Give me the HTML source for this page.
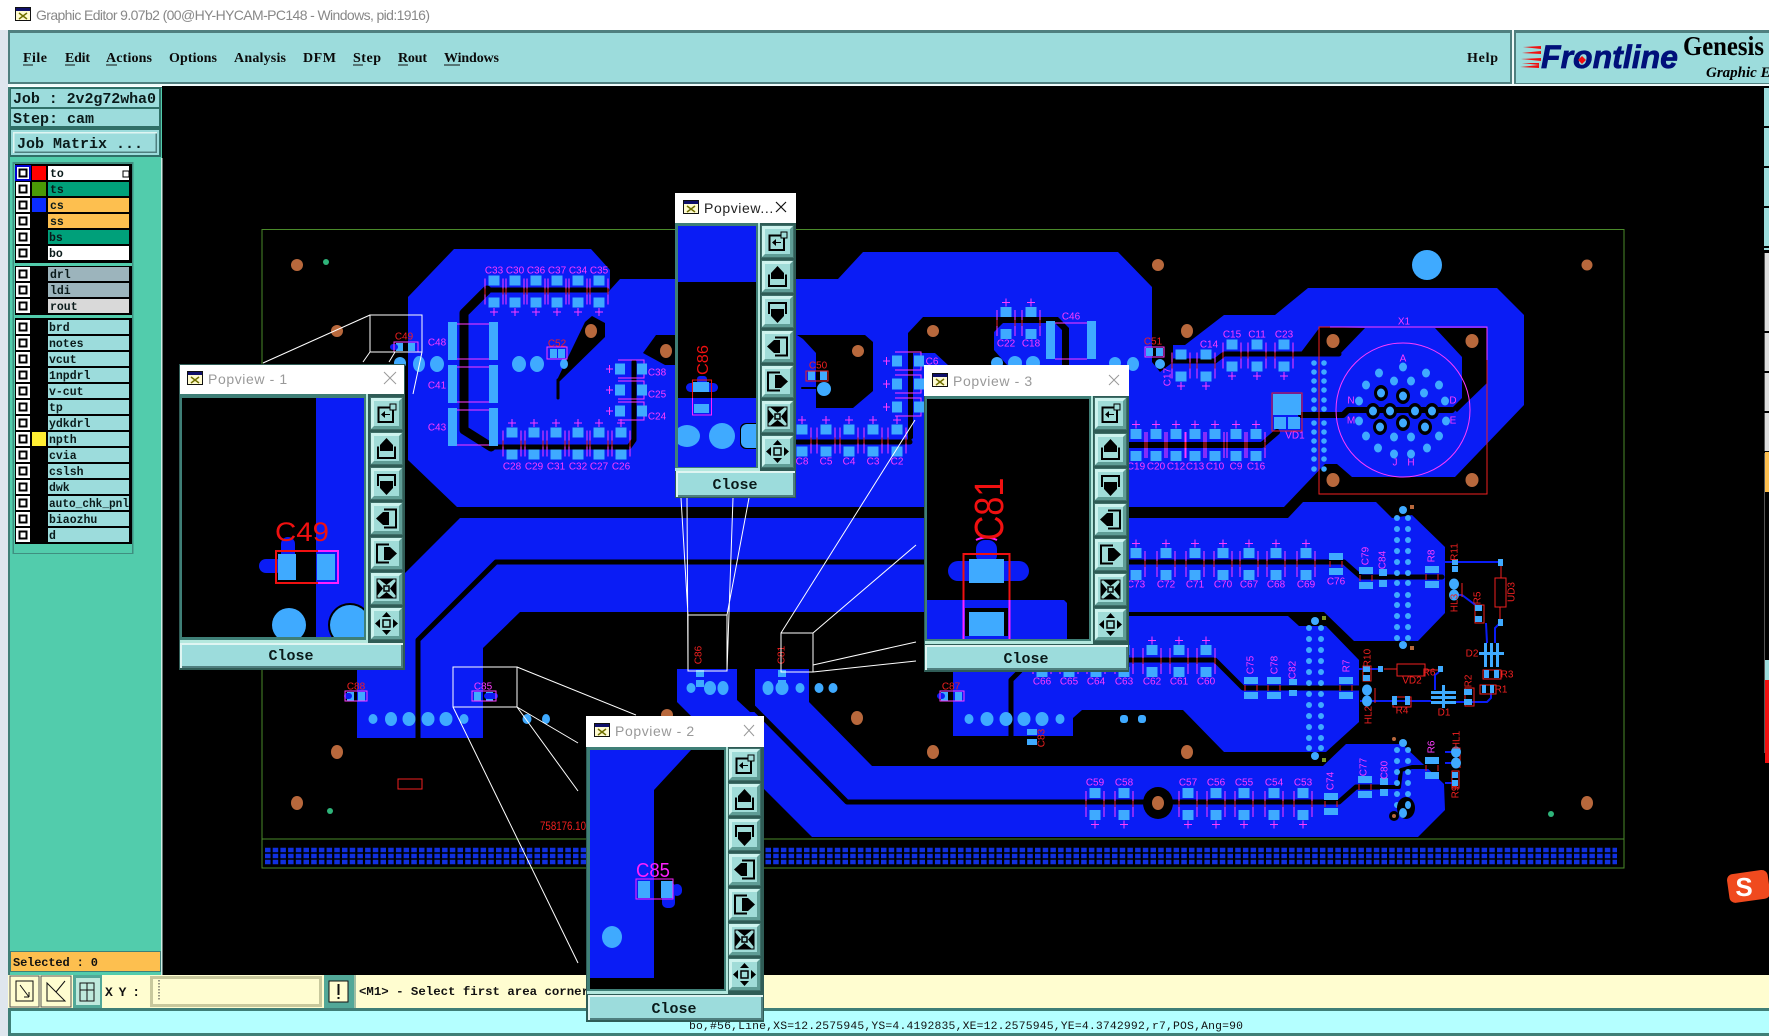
<!DOCTYPE html>
<html><head><meta charset="utf-8"><title>Graphic Editor</title>
<style>
html,body{margin:0;padding:0;background:#fff}
svg{display:block}
.m{fill:#ff3cff;font:10px "Liberation Sans",sans-serif;text-anchor:middle;dominant-baseline:central}
.r{fill:#f02020;font:10px "Liberation Sans",sans-serif;text-anchor:middle;dominant-baseline:central}
.men{font:bold 14px "Liberation Serif",serif;fill:#0a0a0a}
.mono{font:bold 15px "Liberation Mono",monospace;fill:#0a1a1a}
.ln{font:bold 11.5px "Liberation Mono",monospace;fill:#0a1a1a}
.ttl{font:14px "Liberation Sans",sans-serif;fill:#999;letter-spacing:.6px}
.tr{fill:none;stroke:#000;stroke-linejoin:round;stroke-linecap:round}
.w{stroke:#fff;stroke-width:1;fill:none}
.pad{fill:#3faaff}
</style></head><body>
<svg width="1769" height="1036" viewBox="0 0 1769 1036" xmlns="http://www.w3.org/2000/svg">
<defs>
<g id="c"><path d="M-9-13V13M9-13V13" stroke="#ff3cff"/><path d="M-9-3V3M9-3V3" stroke="#f02020"/><rect x="-5.500" y="-16" width="11" height="10" class="pad"/><rect x="-5.500" y="6" width="11" height="10" class="pad"/></g>
<g id="cb"><use href="#c"/><path d="M-4 20.500H4M0 16.500V24.500" stroke="#ff3cff"/></g>
<g id="ct"><use href="#c"/><path d="M-4-20.500H4M0-24.500V-16.500" stroke="#ff3cff"/></g>
<g id="h"><path d="M-13-9H13V9H-13" fill="none" stroke="#ff3cff"/><rect x="-16" y="-5.500" width="10" height="11" class="pad"/><rect x="6" y="-5.500" width="10" height="11" class="pad"/><path d="M-25 0H-18M-21.500-4V4" stroke="#ff3cff"/></g>
<g id="two"><rect x="-7" y="-11" width="14" height="7" class="pad"/><rect x="-7" y="4" width="14" height="7" class="pad"/><path d="M-6-3V3M6-3V3" stroke="#f02020"/></g>
<g id="btn"><rect width="33" height="33" fill="#3f6f69"/><rect x="1" y="1" width="31" height="31" fill="#5f9d96"/><path d="M1 1H32L29 4H4V29L1 32Z" fill="#cdf3ee"/><rect x="4" y="4" width="25" height="25" fill="#a0dcd8"/></g>
<g id="b1"><use href="#btn"/><path d="M8.500 10.500H23V25H8.500Z" fill="none" stroke="#000" stroke-width="2"/><rect x="20" y="7" width="6" height="6" fill="#a0dcd8" stroke="#000"/><path d="M11 17.500L15 14V21ZM14 17H20V18H14Z"/></g>
<g id="b2"><use href="#btn"/><path d="M8 14.500V26H25V14.500" fill="none" stroke="#000" stroke-width="2"/><path d="M16.500 6L23 13V19H10V13Z"/></g>
<g id="b3"><use href="#btn"/><path d="M8 19V8H25V19" fill="none" stroke="#000" stroke-width="2"/><path d="M16.500 28L23 21V14H10V21Z"/></g>
<g id="b4"><use href="#btn"/><path d="M14 7.500H26V25.500H14" fill="none" stroke="#000" stroke-width="2"/><path d="M6 16.500L13 10H19V23H13Z"/></g>
<g id="b5"><use href="#btn"/><path d="M19 7.500H7V25.500H19" fill="none" stroke="#000" stroke-width="2"/><path d="M27 16.500L20 10H14V23H20Z"/></g>
<g id="b6"><use href="#btn"/><path d="M7 7H26V26H7Z" fill="none" stroke="#000"/><path d="M9 7H24L16.500 13ZM9 26H24L16.500 20ZM7 9V24L13 16.500ZM26 9V24L20 16.500Z"/><rect x="14" y="14" width="5" height="5" fill="none" stroke="#000" stroke-width="1.500"/></g>
<g id="b7"><use href="#btn"/><path d="M16.500 5L21 10H12ZM16.500 28L21 23H12ZM5 16.500L10 12V21ZM28 16.500L23 12V21Z"/><rect x="13" y="13" width="7" height="7" fill="none" stroke="#000" stroke-width="1.500"/></g>
<g id="ico"><rect width="16" height="14" fill="#111"/><rect x="1" y="1" width="14" height="12" fill="#fffbd0"/><rect x="1" y="1" width="14" height="3" fill="#10106a"/><path d="M4 6L12 12M12 6L4 12" stroke="#707000" stroke-width="1.500"/></g>
<g id="chk"><rect x="0" y="0" width="14" height="14" fill="#fff"/><rect x="2.500" y="2.500" width="9" height="9" fill="#000"/><rect x="4.500" y="4.500" width="5" height="5" fill="#fff"/></g>
<clipPath id="cp1"><rect x="182" y="398" width="182" height="239"/></clipPath>
<clipPath id="cp4"><rect x="678" y="226" width="78" height="241"/></clipPath>
<clipPath id="cp3"><rect x="927" y="399" width="162" height="240"/></clipPath>
</defs>

<rect width="1769" height="1036" fill="#fff"/>
<rect x="0" y="30" width="8" height="1006" fill="#dfe6ee"/>
<use href="#ico" transform="translate(15 7)"/>
<text x="36" y="20" font-family="Liberation Sans" font-size="14" fill="#888" textLength="394" lengthAdjust="spacing">Graphic Editor 9.07b2 (00@HY-HYCAM-PC148 - Windows, pid:1916)</text>

<!-- canvas -->
<rect x="162" y="85" width="1607" height="892" fill="#000"/>
<rect x="262" y="229.500" width="1362" height="638.500" fill="none" stroke="#4a8a2a"/>
<path d="M262 839H1624" stroke="#4a8a2a"/>
<g stroke="#1030e0" stroke-width="4.500" stroke-dasharray="5.500 2.200"><path d="M265 850H1617M265 856H1617M265 862H1617"/></g>

<!-- copper -->
<g fill="#0a1cf5">
<polygon points="408,297 454,249 591,249 610,270 610,290 620,279 838,279 863,252 1118,252 1152,287 1152,362 1160,372 1173,362 1173,345 1185,345 1224,315 1275,315 1308,288 1497,288 1524,315 1524,405 1455,477 1352,477 1337,464 1325,464 1284,507 457,507 408,460"/>
<polygon points="460,518 1288,518 1303,502 1376,502 1392,518 1412,515 1445,547 1445,613 1418,641 1354,641 1324,612 520,612 483,648 483,738 357,738 357,620 405,573"/>
<polygon points="953,672 953,616 1288,616 1299,626 1326,626 1359,660 1359,722 1326,752 1224,752 1183,710 1082,710 1073,718 1073,736 953,736"/>
<polygon points="677,669 737,669 737,700 750,712 755,712 755,669 809,669 809,702 872,766 1323,766 1346,744 1402,744 1444,784 1445,810 1418,837 812,837 677,702"/>
</g>
<!-- black pockets -->
<g fill="#000">
<polygon points="1299,355 1320,327 1365,328 1339,355"/>
<polygon points="1435,328 1487,328 1487,383 1457,412 1452,408 1462,398 1462,357"/>
<polygon points="557,380 585,322 592,316 605,323 605,337 559,382"/>
<polygon points="656,335 676,335 676,365 665,365 643,353"/>
<polygon points="797,335 865,335 873,342 873,391 853,408 816,408 816,353 803,339"/>
<polygon points="908,333 923,317 1058,317 1069,328 1069,365 1062,365 1062,330 1055,323 1003,323 994,332 994,350 1007,365 948,365 935,353 913,353 913,438 908,443"/>
</g>
<g class="tr">
<path d="M558 380V398" stroke-width="3"/>
<path d="M487 290H607" stroke-width="5"/>
<path d="M487 290L464 313V430L491 447" stroke-width="9"/>
<path d="M491 447H629L634 440V362" stroke-width="5"/>
<path d="M797 442H910" stroke-width="5"/>
<path d="M1128 445H1262L1277 432" stroke-width="6"/>
<path d="M1173 361H1215L1224 354H1339" stroke-width="5"/>
<path d="M1301 415H1343L1348 410H1452" stroke-width="6"/>
<path d="M418 738V640L496 562H1344L1361 577H1442" stroke-width="5"/>
<path d="M1011 736V680L1020 671M1020 660H1215L1243 688H1359" stroke-width="5"/>
<path d="M746 700L847 802H1339L1356 787H1385" stroke-width="5"/>
<path d="M1445 767H1412L1401 770L1399 787H1382" stroke-width="4"/>
<path d="M802 388H817" stroke-width="2"/>
</g>
<ellipse cx="1158" cy="803" rx="15" ry="16"/>

<!-- holes -->
<g fill="#b8683c">
<ellipse cx="297" cy="265" rx="6" ry="6"/><ellipse cx="337" cy="331" rx="6" ry="6"/><ellipse cx="591" cy="331" rx="6" ry="7"/><ellipse cx="666" cy="351" rx="6" ry="7"/><ellipse cx="858" cy="351" rx="6" ry="6"/><ellipse cx="933" cy="331" rx="6" ry="6"/><ellipse cx="1187" cy="331" rx="6" ry="7"/><ellipse cx="1158" cy="265" rx="6" ry="6"/><ellipse cx="1587" cy="265" rx="5.500" ry="5.500"/>
<ellipse cx="1333" cy="341" rx="6.500" ry="7"/><ellipse cx="1472" cy="341" rx="6.500" ry="7"/><ellipse cx="1333" cy="480" rx="6.500" ry="7"/><ellipse cx="1472" cy="480" rx="6.500" ry="7"/>
<ellipse cx="337" cy="752" rx="6" ry="7"/><ellipse cx="297" cy="803" rx="6" ry="7"/><ellipse cx="667" cy="715" rx="6" ry="6"/><ellipse cx="857" cy="718" rx="6" ry="7"/><ellipse cx="933" cy="752" rx="6" ry="7"/><ellipse cx="1187" cy="752" rx="6" ry="7"/><ellipse cx="1158" cy="803" rx="6" ry="7"/><ellipse cx="1587" cy="803" rx="6" ry="7"/>
<rect x="1410" y="505" width="4" height="4"/><rect x="1410" y="646" width="4" height="4"/><circle cx="1394" cy="739" r="2"/><circle cx="1393" cy="816" r="2"/>
</g>
<g fill="#7f9a20"><rect x="1322" y="616" width="4" height="4"/><rect x="1322" y="758" width="4" height="4"/></g>
<g fill="#2fb47a"><circle cx="326" cy="262" r="3"/><circle cx="330" cy="811" r="3"/><circle cx="1551" cy="814" r="3"/></g>
<circle cx="1427" cy="265" r="15" class="pad"/>

<!-- X1 -->
<rect x="1319" y="327" width="168" height="167" fill="none" stroke="#f02020"/>
<path d="M1330 327H1487V360" fill="none" stroke="#ff3cff"/>
<circle cx="1403" cy="410" r="67" fill="none" stroke="#ff3cff"/>
<g fill="#000"><ellipse cx="1381" cy="393" rx="7" ry="8"/><ellipse cx="1403" cy="396" rx="7" ry="8"/><ellipse cx="1373" cy="411" rx="7" ry="8"/><ellipse cx="1390" cy="411" rx="7" ry="8"/><ellipse cx="1415" cy="411" rx="7" ry="8"/><ellipse cx="1432" cy="411" rx="7" ry="8"/><ellipse cx="1380" cy="427" rx="7" ry="8"/><ellipse cx="1403" cy="423" rx="7" ry="8"/><ellipse cx="1425" cy="427" rx="7" ry="8"/></g>
<g class="pad">
<ellipse cx="1403" cy="367" rx="4" ry="4.500"/><ellipse cx="1379" cy="373" rx="4" ry="4.500"/><ellipse cx="1426" cy="373" rx="4" ry="4.500"/><ellipse cx="1394" cy="381" rx="4" ry="4.500"/><ellipse cx="1411" cy="381" rx="4" ry="4.500"/><ellipse cx="1366" cy="385" rx="4" ry="4.500"/><ellipse cx="1439" cy="385" rx="4" ry="4.500"/>
<ellipse cx="1381" cy="393" rx="4" ry="4.500"/><ellipse cx="1403" cy="396" rx="4" ry="4.500"/><ellipse cx="1424" cy="393" rx="4" ry="4.500"/><ellipse cx="1359" cy="401" rx="4" ry="4.500"/><ellipse cx="1445" cy="401" rx="4" ry="4.500"/>
<ellipse cx="1373" cy="411" rx="4" ry="4.500"/><ellipse cx="1390" cy="411" rx="4" ry="4.500"/><ellipse cx="1415" cy="411" rx="4" ry="4.500"/><ellipse cx="1432" cy="411" rx="4" ry="4.500"/>
<ellipse cx="1359" cy="421" rx="4" ry="4.500"/><ellipse cx="1446" cy="421" rx="4" ry="4.500"/><ellipse cx="1380" cy="427" rx="4" ry="4.500"/><ellipse cx="1403" cy="423" rx="4" ry="4.500"/><ellipse cx="1425" cy="427" rx="4" ry="4.500"/>
<ellipse cx="1366" cy="436" rx="4" ry="4.500"/><ellipse cx="1439" cy="436" rx="4" ry="4.500"/><ellipse cx="1394" cy="437" rx="4" ry="4.500"/><ellipse cx="1411" cy="437" rx="4" ry="4.500"/><ellipse cx="1378" cy="448" rx="4" ry="4.500"/><ellipse cx="1427" cy="448" rx="4" ry="4.500"/><ellipse cx="1394" cy="454" rx="4" ry="4.500"/><ellipse cx="1411" cy="454" rx="4" ry="4.500"/>
</g>
<text class="m" x="1403" y="359">A</text><text class="m" x="1351" y="401">N</text><text class="m" x="1453" y="401">D</text><text class="m" x="1351" y="421">M</text><text class="m" x="1453" y="421">E</text><text class="m" x="1395" y="463">J</text><text class="m" x="1411" y="463">H</text><text class="m" x="1404" y="322">X1</text>

<!-- via columns -->
<g class="pad">
<circle cx="1314" cy="363" r="2.800"/><circle cx="1324" cy="363" r="2.800"/><circle cx="1314" cy="372" r="2.800"/><circle cx="1324" cy="372" r="2.800"/><circle cx="1314" cy="381" r="2.800"/><circle cx="1324" cy="381" r="2.800"/><circle cx="1314" cy="390" r="2.800"/><circle cx="1324" cy="390" r="2.800"/><circle cx="1314" cy="400" r="2.800"/><circle cx="1324" cy="400" r="2.800"/><circle cx="1314" cy="409" r="2.800"/><circle cx="1324" cy="409" r="2.800"/><circle cx="1314" cy="423" r="2.800"/><circle cx="1324" cy="423" r="2.800"/><circle cx="1314" cy="432" r="2.800"/><circle cx="1324" cy="432" r="2.800"/><circle cx="1314" cy="441" r="2.800"/><circle cx="1324" cy="441" r="2.800"/><circle cx="1314" cy="450" r="2.800"/><circle cx="1324" cy="450" r="2.800"/><circle cx="1314" cy="459" r="2.800"/><circle cx="1324" cy="459" r="2.800"/><circle cx="1314" cy="469" r="2.800"/><circle cx="1324" cy="469" r="2.800"/>
<circle cx="1397" cy="518" r="3"/><circle cx="1408" cy="518" r="3"/><circle cx="1397" cy="529" r="3"/><circle cx="1408" cy="529" r="3"/><circle cx="1397" cy="540" r="3"/><circle cx="1408" cy="540" r="3"/><circle cx="1397" cy="551" r="3"/><circle cx="1408" cy="551" r="3"/><circle cx="1397" cy="562" r="3"/><circle cx="1408" cy="562" r="3"/><circle cx="1397" cy="573" r="3"/><circle cx="1408" cy="573" r="3"/><circle cx="1397" cy="583" r="3"/><circle cx="1408" cy="583" r="3"/><circle cx="1397" cy="595" r="3"/><circle cx="1408" cy="595" r="3"/><circle cx="1397" cy="605" r="3"/><circle cx="1408" cy="605" r="3"/><circle cx="1397" cy="616" r="3"/><circle cx="1408" cy="616" r="3"/><circle cx="1397" cy="627" r="3"/><circle cx="1408" cy="627" r="3"/><circle cx="1397" cy="638" r="3"/><circle cx="1408" cy="638" r="3"/>
<circle cx="1403" cy="510" r="4"/><circle cx="1403" cy="645" r="4"/>
<circle cx="1309" cy="628" r="3"/><circle cx="1321" cy="628" r="3"/><circle cx="1309" cy="639" r="3"/><circle cx="1321" cy="639" r="3"/><circle cx="1309" cy="650" r="3"/><circle cx="1321" cy="650" r="3"/><circle cx="1309" cy="661" r="3"/><circle cx="1321" cy="661" r="3"/><circle cx="1309" cy="672" r="3"/><circle cx="1321" cy="672" r="3"/><circle cx="1309" cy="683" r="3"/><circle cx="1321" cy="683" r="3"/><circle cx="1309" cy="694" r="3"/><circle cx="1321" cy="694" r="3"/><circle cx="1309" cy="705" r="3"/><circle cx="1321" cy="705" r="3"/><circle cx="1309" cy="716" r="3"/><circle cx="1321" cy="716" r="3"/><circle cx="1309" cy="727" r="3"/><circle cx="1321" cy="727" r="3"/><circle cx="1309" cy="738" r="3"/><circle cx="1321" cy="738" r="3"/><circle cx="1309" cy="748" r="3"/><circle cx="1321" cy="748" r="3"/>
<circle cx="1315" cy="621" r="4"/><circle cx="1315" cy="756" r="4"/>
<circle cx="1397" cy="750" r="3"/><circle cx="1408" cy="750" r="3"/><circle cx="1397" cy="761" r="3"/><circle cx="1408" cy="761" r="3"/><circle cx="1397" cy="772" r="3"/><circle cx="1408" cy="772" r="3"/><circle cx="1397" cy="783" r="3"/><circle cx="1408" cy="783" r="3"/><circle cx="1397" cy="794" r="3"/><circle cx="1408" cy="794" r="3"/><circle cx="1397" cy="805" r="3"/><circle cx="1408" cy="805" r="3"/>
<circle cx="1403" cy="743" r="4"/><circle cx="1403" cy="813" r="4"/>
</g>
<ellipse cx="1406" cy="808" rx="9" ry="11" fill="#000"/><circle cx="1394" cy="816" r="5" fill="#000"/><circle cx="1394" cy="816" r="2" fill="#b8683c"/><ellipse cx="1403" cy="813" rx="4" ry="5" class="pad"/><ellipse cx="1408" cy="805" rx="3" ry="4" class="pad"/>

<!-- via rows -->
<g class="pad">
<ellipse cx="400" cy="363" rx="6" ry="6"/><ellipse cx="419" cy="364" rx="6" ry="8"/><ellipse cx="437" cy="364" rx="7" ry="8"/><ellipse cx="519" cy="364" rx="7" ry="8"/><ellipse cx="537" cy="364" rx="7" ry="8"/><ellipse cx="564" cy="364" rx="4" ry="5"/>
<ellipse cx="824" cy="389" rx="7" ry="7"/>
<ellipse cx="997" cy="363" rx="6" ry="6"/><ellipse cx="1015" cy="363" rx="7" ry="7"/><ellipse cx="1033" cy="363" rx="7" ry="7"/>
<ellipse cx="1115" cy="363" rx="6" ry="6"/><ellipse cx="1133" cy="364" rx="6" ry="7"/><ellipse cx="1160" cy="364" rx="5" ry="5"/>
<ellipse cx="373" cy="719" rx="4.500" ry="5"/><ellipse cx="391" cy="719" rx="6" ry="7"/><ellipse cx="409" cy="719" rx="6.500" ry="7"/><ellipse cx="428" cy="719" rx="6.500" ry="7"/><ellipse cx="446" cy="719" rx="6.500" ry="7"/><ellipse cx="464" cy="719" rx="4.500" ry="5"/><ellipse cx="527" cy="719" rx="4.500" ry="5"/><ellipse cx="546" cy="719" rx="4" ry="5"/>
<ellipse cx="691" cy="688" rx="4.500" ry="5"/><ellipse cx="710" cy="688" rx="6" ry="7"/><ellipse cx="723" cy="688" rx="5.500" ry="7"/><ellipse cx="768" cy="688" rx="5.500" ry="7"/><ellipse cx="782" cy="688" rx="6.500" ry="7"/><ellipse cx="800" cy="688" rx="4.500" ry="5"/><ellipse cx="819" cy="688" rx="4.500" ry="5"/><ellipse cx="833" cy="688" rx="4.500" ry="5"/>
<ellipse cx="969" cy="719" rx="4.500" ry="5"/><ellipse cx="987" cy="719" rx="6.500" ry="7"/><ellipse cx="1006" cy="719" rx="6.500" ry="7"/><ellipse cx="1024" cy="719" rx="6.500" ry="7"/><ellipse cx="1042" cy="719" rx="6.500" ry="7"/><ellipse cx="1060" cy="719" rx="4.500" ry="5"/><rect x="1120" y="715" width="8" height="8" rx="3"/><rect x="1138" y="715" width="8" height="8" rx="3"/>
</g>

<!-- capacitors -->
<use href="#cb" x="494" y="291.500"/><use href="#cb" x="515" y="291.500"/><use href="#cb" x="536" y="291.500"/><use href="#cb" x="557" y="291.500"/><use href="#cb" x="578" y="291.500"/><use href="#cb" x="599" y="291.500"/>
<use href="#ct" x="512" y="443.500"/><use href="#ct" x="534" y="443.500"/><use href="#ct" x="556" y="443.500"/><use href="#ct" x="578" y="443.500"/><use href="#ct" x="599" y="443.500"/><use href="#ct" x="621" y="443.500"/>
<use href="#ct" x="802" y="440.500"/><use href="#ct" x="826" y="440.500"/><use href="#ct" x="849" y="440.500"/><use href="#ct" x="873" y="440.500"/><use href="#ct" x="897" y="440.500"/>
<use href="#ct" x="1136" y="445"/><use href="#ct" x="1156" y="445"/><use href="#ct" x="1176" y="445"/><use href="#ct" x="1195" y="445"/><use href="#ct" x="1215" y="445"/><use href="#ct" x="1236" y="445"/><use href="#ct" x="1256" y="445"/>
<use href="#ct" x="1136" y="564"/><use href="#ct" x="1166" y="564"/><use href="#ct" x="1195" y="564"/><use href="#ct" x="1223" y="564"/><use href="#ct" x="1249" y="564"/><use href="#ct" x="1276" y="564"/><use href="#ct" x="1306" y="564"/>
<use href="#ct" x="1152" y="661"/><use href="#ct" x="1179" y="661"/><use href="#ct" x="1206" y="661"/>
<use href="#c" x="1042" y="661"/><use href="#c" x="1069" y="661"/><use href="#c" x="1096" y="661"/><use href="#c" x="1124" y="661"/>
<use href="#cb" x="1095" y="804"/><use href="#cb" x="1124" y="804"/><use href="#cb" x="1188" y="804"/><use href="#cb" x="1216" y="804"/><use href="#cb" x="1244" y="804"/><use href="#cb" x="1274" y="804"/><use href="#cb" x="1303" y="804"/>
<use href="#cb" x="1232" y="355.500"/><use href="#cb" x="1257" y="355.500"/><use href="#cb" x="1284" y="355.500"/><use href="#cb" x="1206" y="365.500"/><use href="#cb" x="1181" y="365.500"/>
<use href="#ct" x="1006" y="323"/><use href="#ct" x="1031" y="323"/>
<use href="#h" x="631" y="369"/><use href="#h" x="631" y="390"/><use href="#h" x="631" y="411"/>
<use href="#h" x="908" y="361"/><use href="#h" x="908" y="384"/><use href="#h" x="908" y="407"/>

<!-- bar caps -->
<g class="pad"><rect x="448" y="322" width="9" height="38"/><rect x="489" y="322" width="9" height="38"/><rect x="448" y="365" width="9" height="38"/><rect x="489" y="365" width="9" height="38"/><rect x="448" y="408" width="9" height="38"/><rect x="489" y="408" width="9" height="38"/><rect x="1046" y="321" width="9" height="38"/><rect x="1087" y="321" width="9" height="38"/></g>
<path d="M457 324H489M457 359H489M457 367H489M457 402H489M457 410H489M457 445H489M1055 323H1087M1055 359H1087" stroke="#ff3cff"/>

<!-- small chips -->
<g class="pad"><rect x="396" y="343" width="7" height="8"/><rect x="408" y="343" width="7" height="8"/><rect x="550" y="349" width="7" height="9"/><rect x="558" y="349" width="7" height="9"/><rect x="808" y="371" width="7" height="9"/><rect x="820" y="371" width="7" height="9"/><rect x="1146" y="348" width="7" height="8"/><rect x="1156" y="348" width="7" height="8"/><rect x="474" y="692" width="7" height="9"/><rect x="486" y="692" width="7" height="9"/><rect x="347" y="692" width="7" height="9"/><rect x="358" y="692" width="7" height="9"/><rect x="941" y="692" width="7" height="9"/><rect x="955" y="692" width="7" height="9"/><rect x="1027" y="729" width="10" height="6"/><rect x="1027" y="739" width="10" height="6"/><rect x="696" y="670" width="8" height="7" /><rect x="696" y="680" width="8" height="7"/><rect x="778" y="670" width="8" height="7"/><rect x="778" y="680" width="8" height="7"/></g>
<g fill="#0a1cf5"><rect x="390" y="344" width="8" height="6" rx="3"/><rect x="484" y="693" width="14" height="6" rx="3"/><rect x="344" y="693" width="8" height="6" rx="3"/><rect x="937" y="693" width="8" height="6" rx="3"/></g>
<g fill="none"><rect x="394" y="342" width="24" height="10" stroke="#ff3cff"/><rect x="547" y="347" width="20" height="12" stroke="#ff3cff"/><rect x="806" y="371" width="22" height="10" stroke="#f02020"/><rect x="1145" y="347" width="19" height="10" stroke="#ff3cff"/><rect x="472" y="691" width="24" height="10" stroke="#ff3cff"/><rect x="345" y="691" width="22" height="10" stroke="#ff3cff"/><rect x="940" y="691" width="24" height="10" stroke="#ff3cff"/></g>

<!-- U1 -->
<rect class="pad" x="1273" y="394" width="28" height="21"/><rect class="pad" x="1274" y="417" width="12" height="12"/><rect class="pad" x="1288" y="417" width="12" height="12"/><rect x="1272" y="393" width="30" height="38" fill="none" stroke="#f02020"/>
<text class="m" x="1295" y="436">VD1</text>

<!-- two pad parts -->
<use href="#two" x="1336" y="564"/><use href="#two" x="1366" y="578"/><use href="#two" x="1432" y="577"/>
<use href="#two" x="1251" y="688"/><use href="#two" x="1274" y="688"/><use href="#two" x="1346" y="688"/>
<use href="#two" x="1331" y="804"/><use href="#two" x="1365" y="787"/><use href="#two" x="1432" y="768"/>
<g class="pad"><rect x="1379" y="569" width="8" height="7"/><rect x="1379" y="580" width="8" height="7"/><rect x="1289" y="679" width="8" height="6"/><rect x="1289" y="690" width="8" height="6"/><rect x="1380" y="778" width="8" height="7"/><rect x="1380" y="789" width="8" height="7"/></g>

<!-- right circuit -->
<g fill="none" stroke="#0a1cf5" stroke-width="2"><path d="M1445 562H1501M1454 595H1462L1478 607M1486 623L1487 643M1501 622L1495 628V643M1491 693V698L1487 702H1431M1360 701H1431M1439 672L1435 675V690M1355 669H1380M1445 752H1456M1445 763H1456M1455 783H1445"/></g>
<path d="M1501 565V578M1500 607V620M1384 669H1397M1425 670H1440" stroke="#f02020" fill="none"/>
<g fill="none" stroke="#f02020"><rect x="1495" y="578" width="11" height="29"/><rect x="1475" y="605" width="9" height="18"/><rect x="1397" y="664" width="28" height="12"/><rect x="1393" y="697" width="18" height="10"/><rect x="1483" y="670" width="18" height="9"/><rect x="1480" y="685" width="16" height="9"/><rect x="1363" y="666" width="8" height="15"/><rect x="1465" y="688" width="9" height="18"/><rect x="1452" y="771" width="7" height="17"/><path d="M1462 583V597M1457 748H1460V768M1375 688V703"/></g>
<g class="pad"><rect x="1498" y="559" width="5" height="7"/><rect x="1498" y="619" width="5" height="7"/><rect x="1475" y="605" width="7" height="6"/><rect x="1475" y="616" width="7" height="6"/><rect x="1378" y="666" width="5" height="6"/><rect x="1438" y="666" width="5" height="6"/><rect x="1452" y="559" width="6" height="6"/><rect x="1452" y="566" width="6" height="6"/><rect x="1363" y="666" width="7" height="6"/><rect x="1363" y="675" width="7" height="6"/><rect x="1392" y="696" width="5" height="9"/><rect x="1405" y="696" width="5" height="9"/><rect x="1484" y="670" width="5" height="8"/><rect x="1494" y="670" width="5" height="8"/><rect x="1482" y="685" width="4" height="8"/><rect x="1490" y="685" width="4" height="8"/><rect x="1464" y="689" width="8" height="6"/><rect x="1464" y="699" width="8" height="6"/><rect x="1452" y="772" width="6" height="6"/><rect x="1452" y="780" width="6" height="6"/>
<ellipse cx="1454" cy="584" rx="5" ry="5.500"/><ellipse cx="1454" cy="595" rx="5" ry="5.500"/><ellipse cx="1367" cy="690" rx="5" ry="5.500"/><ellipse cx="1367" cy="701" rx="5" ry="5.500"/><ellipse cx="1456" cy="752" rx="5" ry="5.500"/><ellipse cx="1456" cy="763" rx="5" ry="5.500"/>
<rect x="1484" y="643" width="3" height="24"/><rect x="1490" y="643" width="3" height="24"/><rect x="1496" y="643" width="3" height="24"/><rect x="1479" y="652" width="25" height="3"/>
<rect x="1431" y="691" width="25" height="3"/><rect x="1431" y="696" width="25" height="3"/><rect x="1431" y="701" width="25" height="3"/><rect x="1442" y="685" width="3" height="23"/></g>

<!-- labels -->
<text class="m" x="494" y="271">C33</text><text class="m" x="515" y="271">C30</text><text class="m" x="536" y="271">C36</text><text class="m" x="557" y="271">C37</text><text class="m" x="578" y="271">C34</text><text class="m" x="599" y="271">C35</text>
<text class="m" x="512" y="467">C28</text><text class="m" x="534" y="467">C29</text><text class="m" x="556" y="467">C31</text><text class="m" x="578" y="467">C32</text><text class="m" x="599" y="467">C27</text><text class="m" x="621" y="467">C26</text>
<text class="m" x="437" y="343">C48</text><text class="m" x="437" y="386">C41</text><text class="m" x="437" y="428">C43</text>
<text class="m" x="657" y="373">C38</text><text class="m" x="657" y="395">C25</text><text class="m" x="657" y="417">C24</text>
<text class="r" x="404" y="337">C49</text><text class="r" x="557" y="344">C52</text><text class="r" x="818" y="366">C50</text><text class="r" x="1153" y="342">C51</text>
<text class="m" x="1071" y="317">C46</text><text class="m" x="1006" y="344">C22</text><text class="m" x="1031" y="344">C18</text>
<text class="m" x="802" y="462">C8</text><text class="m" x="826" y="462">C5</text><text class="m" x="849" y="462">C4</text><text class="m" x="873" y="462">C3</text><text class="m" x="897" y="462">C2</text><text class="m" x="932" y="362">C6</text>
<text class="m" x="1136" y="467">C19</text><text class="m" x="1156" y="467">C20</text><text class="m" x="1176" y="467">C12</text><text class="m" x="1195" y="467">C13</text><text class="m" x="1215" y="467">C10</text><text class="m" x="1236" y="467">C9</text><text class="m" x="1256" y="467">C16</text>
<text class="m" x="1232" y="335">C15</text><text class="m" x="1257" y="335">C11</text><text class="m" x="1284" y="335">C23</text><text class="m" x="1209" y="345">C14</text><text class="m" transform="rotate(-90 1168 377)" x="1168" y="377">C17</text>
<text class="m" x="1136" y="585">C73</text><text class="m" x="1166" y="585">C72</text><text class="m" x="1195" y="585">C71</text><text class="m" x="1223" y="585">C70</text><text class="m" x="1249" y="585">C67</text><text class="m" x="1276" y="585">C68</text><text class="m" x="1306" y="585">C69</text><text class="m" x="1336" y="582">C76</text>
<text class="m" transform="rotate(-90 1366 556)" x="1366" y="556">C79</text><text class="m" transform="rotate(-90 1383 560)" x="1383" y="560">C84</text><text class="m" transform="rotate(-90 1432 556)" x="1432" y="556">R8</text><text class="r" transform="rotate(-90 1455 552)" x="1455" y="552">R11</text>
<text class="m" x="1042" y="682">C66</text><text class="m" x="1069" y="682">C65</text><text class="m" x="1096" y="682">C64</text><text class="m" x="1124" y="682">C63</text><text class="m" x="1152" y="682">C62</text><text class="m" x="1179" y="682">C61</text><text class="m" x="1206" y="682">C60</text>
<text class="m" transform="rotate(-90 1251 665)" x="1251" y="665">C75</text><text class="m" transform="rotate(-90 1275 665)" x="1275" y="665">C78</text><text class="m" transform="rotate(-90 1293 670)" x="1293" y="670">C82</text><text class="m" transform="rotate(-90 1347 666)" x="1347" y="666">R7</text><text class="r" transform="rotate(-90 1368 658)" x="1368" y="658">R10</text><text class="r" transform="rotate(-90 1369 715)" x="1369" y="715">HL2</text><text class="r" transform="rotate(-90 1455 603)" x="1455" y="603">HL3</text><text class="r" transform="rotate(-90 1478 598)" x="1478" y="598">R5</text><text class="r" transform="rotate(-90 1512 592)" x="1512" y="592">UD3</text>
<text class="r" x="1472" y="654">D2</text><text class="r" x="1507" y="675">R3</text><text class="r" x="1501" y="690">R1</text><text class="r" x="1444" y="713">D1</text><text class="r" transform="rotate(-90 1469 681)" x="1469" y="681">R2</text><text class="r" x="1402" y="711">R4</text><text class="r" x="1412" y="681">VD2</text><text class="r" x="1429" y="673">R6</text>
<text class="m" x="1095" y="783">C59</text><text class="m" x="1124" y="783">C58</text><text class="m" x="1188" y="783">C57</text><text class="m" x="1216" y="783">C56</text><text class="m" x="1244" y="783">C55</text><text class="m" x="1274" y="783">C54</text><text class="m" x="1303" y="783">C53</text>
<text class="m" transform="rotate(-90 1331 781)" x="1331" y="781">C74</text><text class="m" transform="rotate(-90 1364 767)" x="1364" y="767">C77</text><text class="m" transform="rotate(-90 1385 770)" x="1385" y="770">C80</text><text class="m" transform="rotate(-90 1432 747)" x="1432" y="747">R6</text><text class="r" transform="rotate(-90 1457 740)" x="1457" y="740">HL1</text><text class="r" transform="rotate(-90 1456 792)" x="1456" y="792">R9</text>
<text class="r" x="356" y="687">C88</text><text class="m" x="483" y="687">C85</text><text class="r" x="951" y="687">C87</text><text class="r" transform="rotate(-90 1042 738)" x="1042" y="738">C83</text><text class="r" transform="rotate(-90 699 655)" x="699" y="655">C86</text><text class="r" transform="rotate(-90 782 655)" x="782" y="655">C81</text>
<rect x="398" y="779" width="24" height="10" fill="none" stroke="#f02020"/>
<text x="540" y="830" font-family="Liberation Sans" font-size="12" fill="#f02020" textLength="46" lengthAdjust="spacingAndGlyphs">758176.10</text>

<!-- magnifier outlines -->
<g class="w">
<rect x="370" y="315" width="52" height="37"/><path d="M370 315L263 363M370 352L363 362M395 352L389 362M422 352L413 394"/>
<rect x="688" y="615" width="39" height="56"/><path d="M681 498L688 615M687 498L688 671M733 498L727 671M749 498L727 615"/>
<rect x="781" y="633" width="32" height="39"/><path d="M781 633L915 420M813 633L916 545M813 665L916 642M813 672L916 661"/>
<rect x="453" y="667" width="64" height="40"/><path d="M517 667L636 715M517 707L578 743M517 707L578 791M453 707L578 963"/>
</g>

<!-- menu -->
<rect x="8" y="30" width="1506" height="56" fill="#f0fbfa"/><rect x="8" y="30" width="1504" height="54" fill="#4f7f7f"/><rect x="10" y="33" width="1500" height="49" fill="#9cdcdc"/>
<rect x="1514" y="30" width="255" height="56" fill="#f0fbfa"/><rect x="1514" y="30" width="255" height="54" fill="#4f7f7f"/><rect x="1516" y="33" width="253" height="50" fill="#9cdcdc"/>
<text class="men" x="23" y="62" textLength="24">File</text><text class="men" x="65" y="62" textLength="25">Edit</text><text class="men" x="106" y="62" textLength="46">Actions</text><text class="men" x="169" y="62" textLength="48">Options</text><text class="men" x="234" y="62" textLength="52">Analysis</text><text class="men" x="303" y="62" textLength="33">DFM</text><text class="men" x="353" y="62" textLength="28">Step</text><text class="men" x="398" y="62" textLength="29">Rout</text><text class="men" x="444" y="62" textLength="55">Windows</text><text class="men" x="1467" y="62" textLength="31">Help</text>
<path d="M23 65H33M65 65H75M106 65H117M353 65H363M398 65H408M444 65H460" stroke="#111"/>
<path d="M1523 47L1541 46V49ZM1522 53L1541 51V54ZM1521 59L1541 58V61ZM1522 63H1539V65ZM1520 67L1539 65V68Z" fill="#f01010"/>
<text x="1541" y="68" font-family="Liberation Sans" font-style="italic" font-weight="bold" font-size="32" fill="#00107a" stroke="#00107a" stroke-width=".7" textLength="137" lengthAdjust="spacingAndGlyphs">Frontline</text>
<path d="M1582 56L1586 60L1582 64L1578 60Z" fill="#f01010"/>
<text x="1683" y="55" font-family="Liberation Serif" font-size="27" fill="#000" textLength="81" lengthAdjust="spacingAndGlyphs" font-weight="bold">Genesis</text>
<text x="1706" y="77" font-family="Liberation Serif" font-style="italic" font-weight="bold" font-size="15" fill="#000">Graphic Editor</text>

<!-- right strip -->
<rect x="1764" y="88" width="5" height="162" fill="#9cdcdc"/><path d="M1764 127H1769M1764 167H1769M1764 207H1769M1764 247H1769" stroke="#000" stroke-width="2"/>
<rect x="1764" y="253" width="5" height="199" fill="#ddd"/><rect x="1764" y="253" width="1" height="500" fill="#555"/><path d="M1764 332H1769M1764 372H1769M1764 412H1769M1764 452H1769" stroke="#000" stroke-width="2"/>
<rect x="1765" y="452" width="4" height="40" fill="#fdbf4f"/><rect x="1765" y="660" width="4" height="20" fill="#9cdcdc"/><rect x="1765" y="680" width="4" height="83" fill="#f01010"/>
<g><rect x="1728" y="872" width="41" height="29" rx="6" fill="#f04a1e" transform="rotate(-8 1748 886)"/><text x="1744" y="896" font-family="Liberation Sans" font-weight="bold" font-size="26" fill="#fff" text-anchor="middle">S</text></g>

<!-- left panel -->
<rect x="8" y="87" width="154" height="890" fill="#3f7f77"/><rect x="10" y="88" width="152" height="887" fill="#52ccac"/><rect x="161" y="158" width="1.500" height="818" fill="#cfeee6"/>
<rect x="10" y="87" width="151" height="70" fill="#2f6f67"/>
<rect x="11" y="89" width="148" height="18" fill="#9cdcdc"/><rect x="11" y="109" width="148" height="17" fill="#9cdcdc"/><rect x="11" y="130" width="148" height="25" fill="#9cdcdc"/>
<rect x="13" y="132" width="144" height="21" fill="#dff5f2"/><rect x="14.500" y="133.500" width="142.500" height="19.500" fill="#4f7f7f"/><rect x="14.500" y="133.500" width="141" height="18" fill="#9cdcdc"/>
<text class="mono" x="13" y="103" textLength="143">Job : 2v2g72wha0</text><text class="mono" x="13" y="123">Step: cam</text><text class="mono" x="17" y="148">Job Matrix ...</text>

<rect x="12.500" y="162" width="121" height="392" fill="#3f8f80"/><rect x="14" y="164" width="118" height="389" fill="#52ccac"/>
<rect x="15" y="164" width="117" height="99" fill="#000"/><rect x="15" y="266" width="117" height="49" fill="#000"/><rect x="15" y="318" width="117" height="226" fill="#000"/>
<!-- layer rows -->
<g>
<use href="#chk" x="16" y="166"/><rect x="16" y="166" width="14" height="14" fill="none" stroke="#0000d0" stroke-width="2"/><rect x="32" y="166" width="14" height="14" fill="#f00"/><rect x="48" y="166" width="81" height="14" fill="#fff"/><text class="ln" x="50" y="177">to</text><rect x="123" y="171" width="6" height="6" fill="none" stroke="#000"/>
<use href="#chk" x="16" y="182"/><rect x="32" y="182" width="14" height="14" fill="#4a9a06"/><rect x="48" y="182" width="81" height="14" fill="#00a07a"/><text class="ln" x="50" y="193">ts</text>
<use href="#chk" x="16" y="198"/><rect x="32" y="198" width="14" height="14" fill="#0a2cff"/><rect x="48" y="198" width="81" height="14" fill="#fdbf4f"/><text class="ln" x="50" y="209">cs</text>
<use href="#chk" x="16" y="214"/><rect x="48" y="214" width="81" height="14" fill="#fdbf4f"/><text class="ln" x="50" y="225">ss</text>
<use href="#chk" x="16" y="230"/><rect x="48" y="230" width="81" height="14" fill="#00a07a"/><text class="ln" x="49" y="241">bs</text>
<use href="#chk" x="16" y="246"/><rect x="48" y="246" width="81" height="14" fill="#fff"/><text class="ln" x="49" y="257">bo</text>
<use href="#chk" x="16" y="267"/><rect x="48" y="267" width="81" height="14" fill="#9cb4bc"/><text class="ln" x="50" y="278">drl</text>
<use href="#chk" x="16" y="283"/><rect x="48" y="283" width="81" height="14" fill="#9cb4bc"/><text class="ln" x="50" y="294">ldi</text>
<use href="#chk" x="16" y="299"/><rect x="48" y="299" width="81" height="14" fill="#d9d9d9"/><text class="ln" x="50" y="310">rout</text>
<use href="#chk" x="16" y="320"/><rect x="48" y="320" width="81" height="14" fill="#9cdcdc"/><text class="ln" x="49" y="331">brd</text>
<use href="#chk" x="16" y="336"/><rect x="48" y="336" width="81" height="14" fill="#9cdcdc"/><text class="ln" x="49" y="347">notes</text>
<use href="#chk" x="16" y="352"/><rect x="48" y="352" width="81" height="14" fill="#9cdcdc"/><text class="ln" x="49" y="363">vcut</text>
<use href="#chk" x="16" y="368"/><rect x="48" y="368" width="81" height="14" fill="#9cdcdc"/><text class="ln" x="49" y="379">1npdrl</text>
<use href="#chk" x="16" y="384"/><rect x="48" y="384" width="81" height="14" fill="#9cdcdc"/><text class="ln" x="49" y="395">v-cut</text>
<use href="#chk" x="16" y="400"/><rect x="48" y="400" width="81" height="14" fill="#9cdcdc"/><text class="ln" x="49" y="411">tp</text>
<use href="#chk" x="16" y="416"/><rect x="48" y="416" width="81" height="14" fill="#9cdcdc"/><text class="ln" x="49" y="427">ydkdrl</text>
<use href="#chk" x="16" y="432"/><rect x="32" y="432" width="14" height="14" fill="#ffee33"/><rect x="48" y="432" width="81" height="14" fill="#9cdcdc"/><text class="ln" x="49" y="443">npth</text>
<use href="#chk" x="16" y="448"/><rect x="48" y="448" width="81" height="14" fill="#9cdcdc"/><text class="ln" x="49" y="459">cvia</text>
<use href="#chk" x="16" y="464"/><rect x="48" y="464" width="81" height="14" fill="#9cdcdc"/><text class="ln" x="49" y="475">cslsh</text>
<use href="#chk" x="16" y="480"/><rect x="48" y="480" width="81" height="14" fill="#9cdcdc"/><text class="ln" x="49" y="491">dwk</text>
<use href="#chk" x="16" y="496"/><rect x="48" y="496" width="81" height="14" fill="#9cdcdc"/><text class="ln" x="49" y="507" textLength="80" lengthAdjust="spacingAndGlyphs">auto_chk_pnl</text>
<use href="#chk" x="16" y="512"/><rect x="48" y="512" width="81" height="14" fill="#9cdcdc"/><text class="ln" x="49" y="523">biaozhu</text>
<use href="#chk" x="16" y="528"/><rect x="48" y="528" width="81" height="14" fill="#9cdcdc"/><text class="ln" x="49" y="539">d</text>
</g>
<rect x="10" y="951" width="151" height="21" fill="#3f7f77"/><rect x="11" y="952" width="149" height="19" fill="#fdbf4f"/>
<text x="13" y="966" font-family="Liberation Mono" font-weight="bold" font-size="12" fill="#111" textLength="85">Selected : 0</text>

<!-- command bar -->
<rect x="8" y="975" width="1761" height="33" fill="#fffdd0"/>
<rect x="8" y="1008" width="1761" height="28" fill="#3f7f77"/><rect x="11" y="1011" width="1758" height="22" fill="#b4ffff"/>
<g fill="none" stroke="#555"><rect x="10" y="976" width="29" height="31" fill="#fffdd0"/><rect x="41" y="976" width="30" height="31" fill="#fffdd0"/></g>
<rect x="73" y="975" width="29" height="33" fill="#52a898"/><rect x="76" y="978" width="24" height="27" fill="#bfe9dd"/>
<path d="M16 981H33V1001H16ZM20 985L29 997M29 997V992M29 997H24M47 983V1001H65L47 983ZM56 992L65 981M80 983H94V1001H80ZM80 990H94M87 983V1001" fill="none" stroke="#111"/>
<text x="105" y="996" font-family="Liberation Mono" font-weight="bold" font-size="13" fill="#111" textLength="35">X Y :</text>
<rect x="150" y="976" width="172" height="31" fill="#c8c89c"/><rect x="153" y="979" width="166" height="25" fill="#fffdd0"/>
<path d="M159 980V1001" stroke="#333" stroke-dasharray="1.500 1.500"/>
<rect x="324" y="975" width="30" height="33" fill="#52a898"/><rect x="329" y="981" width="19" height="21" fill="#fffdd0" stroke="#111"/><path d="M338.500 984V995M338.500 997V999" stroke="#111" stroke-width="2"/>
<path d="M355 975V1008" stroke="#3f7f77"/>
<text x="359" y="995" font-family="Liberation Mono" font-weight="bold" font-size="12" fill="#111" textLength="230" lengthAdjust="spacingAndGlyphs">&lt;M1&gt; - Select first area corner</text>
<text x="689" y="1029" font-family="Liberation Mono" font-size="11.400" fill="#111" textLength="554">bo,#56,Line,XS=12.2575945,YS=4.4192835,XE=12.2575945,YE=4.3742992,r7,POS,Ang=90</text>

<!-- Popup 1 -->
<rect x="179" y="364" width="226" height="306" fill="#2f5c56"/><rect x="180" y="365" width="224" height="29" fill="#fff"/>
<rect x="180" y="394" width="188" height="249" fill="#b4e8de"/><rect x="180" y="394" width="186" height="246" fill="#3f7f77"/><rect x="182" y="398" width="182" height="239" fill="#000"/>
<g clip-path="url(#cp1)">
<rect x="316" y="398" width="48" height="239" fill="#0a1cf5"/>
<circle cx="289" cy="625" r="17" class="pad"/><circle cx="350" cy="625" r="22" fill="#000"/><circle cx="350" cy="625" r="20" class="pad"/>
<rect x="281" y="537" width="14" height="24" rx="7" fill="#0a1cf5"/><rect x="259" y="559" width="24" height="14" rx="7" fill="#0a1cf5"/>
<rect x="278" y="554" width="18" height="26" class="pad"/><rect x="317" y="554" width="18" height="26" class="pad"/>
<path d="M318 551H338V583H318" fill="none" stroke="#ff20ff" stroke-width="2"/><path d="M318 551H276V583H318" fill="none" stroke="#f01010" stroke-width="2"/>
<text x="275" y="541" font-family="Liberation Sans" font-size="27" fill="#f01010" textLength="54" lengthAdjust="spacingAndGlyphs">C49</text>
</g>
<use href="#b1" x="370" y="397"/><use href="#b2" x="370" y="432"/><use href="#b3" x="370" y="467"/><use href="#b4" x="370" y="502"/><use href="#b5" x="370" y="537"/><use href="#b6" x="370" y="572"/><use href="#b7" x="370" y="607"/>
<rect x="180" y="643" width="223" height="25" fill="#dff5f2"/><rect x="182" y="645" width="221" height="23" fill="#4f7f7f"/><rect x="182" y="645" width="219" height="21" fill="#9cdcdc"/>
<text class="mono" x="291" y="660" text-anchor="middle">Close</text>
<use href="#ico" x="187" y="371"/><text class="ttl" x="208" y="384">Popview - 1</text><path d="M384 372L396 384M396 372L384 384" stroke="#999"/>

<!-- Popup 4 -->
<rect x="675" y="193" width="121" height="305" fill="#2f5c56"/><rect x="675" y="193" width="121" height="30" fill="#fff"/>
<rect x="675" y="223" width="85" height="248" fill="#b4e8de"/><rect x="675" y="223" width="83" height="245" fill="#3f7f77"/><rect x="678" y="226" width="78" height="241" fill="#000"/>
<g clip-path="url(#cp4)">
<rect x="678" y="226" width="78" height="56" fill="#0a1cf5"/><rect x="678" y="398" width="78" height="69" fill="#0a1cf5"/>
<ellipse cx="687" cy="436" rx="13" ry="11" class="pad"/><circle cx="722" cy="436" r="13" class="pad"/><rect x="740" y="423" width="22" height="26" rx="6" fill="#000"/><rect x="741" y="424" width="22" height="24" rx="6" class="pad"/>
<rect x="686" y="383" width="32" height="9" rx="4.500" fill="#0a1cf5"/><rect x="697" y="376" width="10" height="8" rx="3" fill="#0a1cf5"/>
<rect x="693" y="382" width="16" height="10" class="pad"/><rect x="694" y="404" width="15" height="9" class="pad"/>
<rect x="692.500" y="380" width="19" height="35" fill="none" stroke="#f01010"/><path d="M692.500 398V415H711.500V398" fill="none" stroke="#ff20ff"/>
<text transform="rotate(-90 702 360)" x="702" y="366" font-family="Liberation Sans" font-size="16" fill="#f01010" text-anchor="middle" textLength="30" lengthAdjust="spacingAndGlyphs">C86</text>
</g>
<use href="#b1" x="761" y="225"/><use href="#b2" x="761" y="260"/><use href="#b3" x="761" y="295"/><use href="#b4" x="761" y="330"/><use href="#b5" x="761" y="365"/><use href="#b6" x="761" y="400"/><use href="#b7" x="761" y="435"/>
<rect x="676" y="471" width="119" height="26" fill="#dff5f2"/><rect x="678" y="473" width="117" height="24" fill="#4f7f7f"/><rect x="678" y="473" width="115" height="22" fill="#9cdcdc"/>
<text class="mono" x="735" y="489" text-anchor="middle">Close</text>
<use href="#ico" x="683" y="200"/><text class="ttl" x="704" y="213" style="fill:#222">Popview...</text><path d="M776 202L786 212M786 202L776 212" stroke="#111" stroke-width="1.200"/>

<!-- Popup 3 -->
<rect x="924" y="365" width="205" height="307" fill="#2f5c56"/><rect x="924" y="365" width="205" height="31" fill="#fff"/>
<rect x="925" y="396" width="168" height="248" fill="#b4e8de"/><rect x="925" y="396" width="166" height="245" fill="#3f7f77"/><rect x="927" y="399" width="162" height="240" fill="#000"/>
<g clip-path="url(#cp3)">
<path d="M927 600H1064L1067 603V639H927Z" fill="#0a1cf5"/>
<rect x="976" y="540" width="21" height="24" rx="9" fill="#0a1cf5"/><rect x="948" y="561" width="81" height="20" rx="10" fill="#0a1cf5"/>
<rect x="969" y="559" width="35" height="24" class="pad"/><rect x="965" y="608" width="43" height="28" fill="#000"/><rect x="969" y="612" width="35" height="24" class="pad"/>
<path d="M963.500 600V554H1009.500V600" fill="none" stroke="#f01010" stroke-width="2"/><path d="M963.500 600V639M1009.500 600V639" fill="none" stroke="#ff20ff" stroke-width="2"/>
<path d="M976 540Q986 535 997 540" stroke="#ff20ff" fill="none" stroke-width="2"/>
<text transform="rotate(-90 989 509)" x="989" y="523" font-family="Liberation Sans" font-size="41" fill="#f01010" text-anchor="middle" textLength="63" lengthAdjust="spacingAndGlyphs">C81</text>
</g>
<use href="#b1" x="1094" y="397"/><use href="#b2" x="1094" y="433"/><use href="#b3" x="1094" y="468"/><use href="#b4" x="1094" y="503"/><use href="#b5" x="1094" y="538"/><use href="#b6" x="1094" y="573"/><use href="#b7" x="1094" y="608"/>
<rect x="925" y="645" width="203" height="25" fill="#dff5f2"/><rect x="927" y="647" width="201" height="23" fill="#4f7f7f"/><rect x="927" y="647" width="199" height="21" fill="#9cdcdc"/>
<text class="mono" x="1026" y="663" text-anchor="middle">Close</text>
<use href="#ico" x="932" y="373"/><text class="ttl" x="953" y="386">Popview - 3</text><path d="M1109 375L1119 385M1119 375L1109 385" stroke="#999"/>

<!-- Popup 2 -->
<rect x="586" y="716" width="178" height="306" fill="#2f5c56"/><rect x="586" y="716" width="178" height="31" fill="#fff"/>
<rect x="587" y="747" width="141" height="247" fill="#b4e8de"/><rect x="587" y="747" width="139" height="244" fill="#3f7f77"/><rect x="590" y="750" width="134" height="239" fill="#000"/>
<polygon points="590,750 691,750 654,790 654,978 590,978" fill="#0a1cf5"/>
<ellipse cx="612" cy="937" rx="10" ry="11" class="pad"/>
<rect x="662" y="882" width="13" height="26" rx="5" fill="#0a1cf5"/><rect x="672" y="884" width="10" height="12" rx="5" fill="#0a1cf5"/>
<rect x="638" y="881" width="12" height="17" class="pad"/><rect x="661" y="881" width="12" height="17" class="pad"/>
<rect x="636" y="879" width="37" height="20" fill="none" stroke="#ff20ff"/>
<text x="636" y="877" font-family="Liberation Sans" font-size="20" fill="#ff20ff" textLength="34" lengthAdjust="spacingAndGlyphs">C85</text>
<use href="#b1" x="728" y="748"/><use href="#b2" x="728" y="783"/><use href="#b3" x="728" y="818"/><use href="#b4" x="728" y="853"/><use href="#b5" x="728" y="888"/><use href="#b6" x="728" y="923"/><use href="#b7" x="728" y="958"/>
<rect x="588" y="995" width="175" height="25" fill="#dff5f2"/><rect x="590" y="997" width="173" height="23" fill="#4f7f7f"/><rect x="590" y="997" width="171" height="21" fill="#9cdcdc"/>
<text class="mono" x="674" y="1013" text-anchor="middle">Close</text>
<use href="#ico" x="594" y="723"/><text class="ttl" x="615" y="736">Popview - 2</text><path d="M744 725L754 736M754 725L744 736" stroke="#999"/>
</svg>
</body></html>
